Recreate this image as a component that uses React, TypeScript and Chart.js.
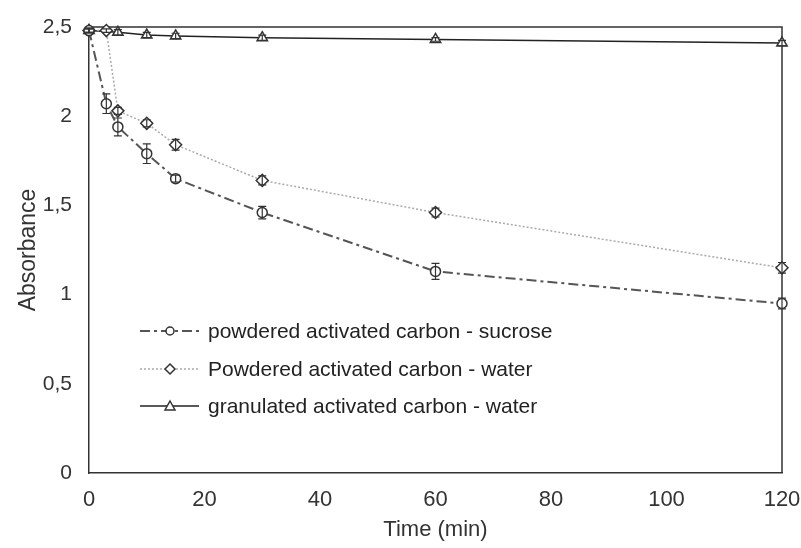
import React, { useEffect, useRef } from "react";
import { Chart, registerables } from "chart.js";

Chart.register(...registerables);

// Sampling times (min)
const timesPowdered = [0, 3, 5, 10, 15, 30, 60, 120];
const timesGranulated = [0, 5, 10, 15, 30, 60, 120];

// Absorbance readings and standard deviations
const sucroseAbs = [2.48, 2.07, 1.94, 1.79, 1.65, 1.46, 1.13, 0.95];
const sucroseErr = [0.01, 0.055, 0.05, 0.055, 0.02, 0.035, 0.045, 0.03];
const waterAbs = [2.48, 2.48, 2.03, 1.96, 1.84, 1.64, 1.46, 1.15];
const waterErr = [0.01, 0.01, 0.02, 0.02, 0.03, 0.025, 0.025, 0.03];
const granulatedAbs = [2.48, 2.47, 2.455, 2.45, 2.44, 2.43, 2.41];
const granulatedErr = [0.015, 0.015, 0.015, 0.015, 0.015, 0.01, 0.015];

const seriesLabels = [
  "powdered activated carbon - sucrose",
  "Powdered activated carbon - water",
  "granulated activated carbon - water",
];

const xTicks = [0, 20, 40, 60, 80, 100, 120];
const yTicks = [0, 0.5, 1, 1.5, 2, 2.5];

const FONT = "'Liberation Sans', Arial, sans-serif";

const toPoints = (xs: number[], ys: number[]) => xs.map((x, i) => ({ x, y: ys[i] }));

// Vertical error bars with caps, drawn through the markers
const errorBars = {
  id: "errorBars",
  afterDatasetsDraw(chart: any) {
    const { ctx, scales } = chart;
    const xs = scales.x;
    const ys = scales.y;
    chart.data.datasets.forEach((ds: any) => {
      const errs: number[] = ds.errors;
      if (!errs) return;
      ctx.save();
      ctx.strokeStyle = "#333";
      ctx.lineWidth = 1.2;
      ctx.setLineDash([]);
      ds.data.forEach((p: any, i: number) => {
        const e = errs[i];
        const px = xs.getPixelForValue(p.x);
        const yTop = ys.getPixelForValue(p.y + e);
        const yBot = ys.getPixelForValue(p.y - e);
        ctx.beginPath();
        ctx.moveTo(px, yTop);
        ctx.lineTo(px, yBot);
        ctx.moveTo(px - 4, yTop);
        ctx.lineTo(px + 4, yTop);
        ctx.moveTo(px - 4, yBot);
        ctx.lineTo(px + 4, yBot);
        ctx.stroke();
      });
      ctx.restore();
    });
  },
};

// Frame lines on the top and right sides of the plot area
const frame = {
  id: "frame",
  beforeDatasetsDraw(chart: any) {
    const { ctx, chartArea } = chart;
    ctx.save();
    ctx.strokeStyle = "#333";
    ctx.lineWidth = 1.5;
    ctx.beginPath();
    ctx.moveTo(chartArea.left, chartArea.top);
    ctx.lineTo(chartArea.right, chartArea.top);
    ctx.lineTo(chartArea.right, chartArea.bottom);
    ctx.stroke();
    ctx.restore();
  },
};

// Legend with line sample and centred marker
const insetLegend = {
  id: "insetLegend",
  afterDraw(chart: any) {
    const { ctx } = chart;
    const rows = [331, 369, 406];
    ctx.save();
    chart.data.datasets.forEach((ds: any, i: number) => {
      const y = rows[i];
      ctx.strokeStyle = ds.borderColor;
      ctx.lineWidth = ds.borderWidth;
      ctx.setLineDash(ds.borderDash || []);
      ctx.beginPath();
      ctx.moveTo(140, y);
      ctx.lineTo(199, y);
      ctx.stroke();
      ctx.setLineDash([]);
      ctx.fillStyle = "#fff";
      ctx.strokeStyle = "#333";
      ctx.lineWidth = 1.5;
      ctx.beginPath();
      const cx = 170;
      if (ds.pointStyle === "circle") {
        ctx.arc(cx, y, 4, 0, Math.PI * 2);
      } else if (ds.pointStyle === "rectRot") {
        ctx.moveTo(cx, y - 5);
        ctx.lineTo(cx + 5, y);
        ctx.lineTo(cx, y + 5);
        ctx.lineTo(cx - 5, y);
        ctx.closePath();
      } else {
        ctx.moveTo(cx, y - 5);
        ctx.lineTo(cx + 5, y + 4);
        ctx.lineTo(cx - 5, y + 4);
        ctx.closePath();
      }
      ctx.fill();
      ctx.stroke();
      ctx.fillStyle = "#222";
      ctx.font = `21px ${FONT}`;
      ctx.textBaseline = "middle";
      ctx.textAlign = "left";
      ctx.fillText(ds.label, 208, y + 1);
    });
    ctx.restore();
  },
};

export default function App() {
  const ref = useRef<HTMLCanvasElement | null>(null);

  useEffect(() => {
    if (!ref.current) return;
    const chart = new Chart(ref.current, {
      type: "line",
      data: {
        datasets: [
          {
            label: seriesLabels[0],
            data: toPoints(timesPowdered, sucroseAbs),
            errors: sucroseErr,
            borderColor: "#555",
            borderWidth: 2,
            borderDash: [10, 4, 3, 4],
            pointStyle: "circle",
            pointRadius: 5,
            pointBorderWidth: 1.5,
            pointBorderColor: "#333",
            pointBackgroundColor: "#fff",
          } as any,
          {
            label: seriesLabels[1],
            data: toPoints(timesPowdered, waterAbs),
            errors: waterErr,
            borderColor: "#aaa",
            borderWidth: 1.5,
            borderDash: [2, 2],
            pointStyle: "rectRot",
            pointRadius: 6,
            pointBorderWidth: 1.5,
            pointBorderColor: "#333",
            pointBackgroundColor: "#fff",
          } as any,
          {
            label: seriesLabels[2],
            data: toPoints(timesGranulated, granulatedAbs),
            errors: granulatedErr,
            borderColor: "#222",
            borderWidth: 1.5,
            pointStyle: "triangle",
            pointRadius: 6,
            pointBorderWidth: 1.5,
            pointBorderColor: "#333",
            pointBackgroundColor: "#fff",
          } as any,
        ],
      },
      options: {
        animation: false,
        responsive: true,
        maintainAspectRatio: false,
        layout: { padding: { top: 27, right: 19, left: 0, bottom: 0 } },
        elements: { line: { tension: 0 } },
        clip: false as any,
        plugins: {
          legend: { display: false },
          tooltip: { enabled: false },
        },
        scales: {
          x: {
            type: "linear",
            min: 0,
            max: 120,
            afterBuildTicks: (s: any) => {
              s.ticks = xTicks.map((v) => ({ value: v }));
            },
            afterFit: (s: any) => {
              s.height = 75;
              s.paddingLeft = 0;
              s.paddingRight = 0;
            },
            grid: { display: false, drawTicks: false },
            border: { color: "#333", width: 1.5 },
            ticks: {
              color: "#333",
              padding: 14,
              font: { family: FONT, size: 22 },
              maxRotation: 0,
            },
            title: {
              display: true,
              text: "Time (min)",
              color: "#333",
              font: { family: FONT, size: 22 },
              padding: { top: 0, bottom: 5 },
            },
          },
          y: {
            type: "linear",
            min: 0,
            max: 2.5,
            afterBuildTicks: (s: any) => {
              s.ticks = yTicks.map((v) => ({ value: v }));
            },
            afterFit: (s: any) => {
              s.width = 89;
              s.paddingTop = 0;
              s.paddingBottom = 0;
            },
            grid: { display: false, drawTicks: false },
            border: { color: "#333", width: 1.5 },
            ticks: {
              color: "#333",
              padding: 17,
              font: { family: FONT, size: 21 },
              callback: (v: any) => String(v).replace(".", ","),
            },
            title: {
              display: true,
              text: "Absorbance",
              color: "#333",
              font: { family: FONT, size: 23 },
              padding: { top: 15, bottom: 0 },
            },
          },
        },
      },
      plugins: [frame, errorBars, insetLegend],
    });
    return () => chart.destroy();
  }, []);

  return (
    <div style={{ position: "absolute", left: 0, top: 0, width: 801, height: 548 }}>
      <canvas ref={ref} />
    </div>
  );
}
